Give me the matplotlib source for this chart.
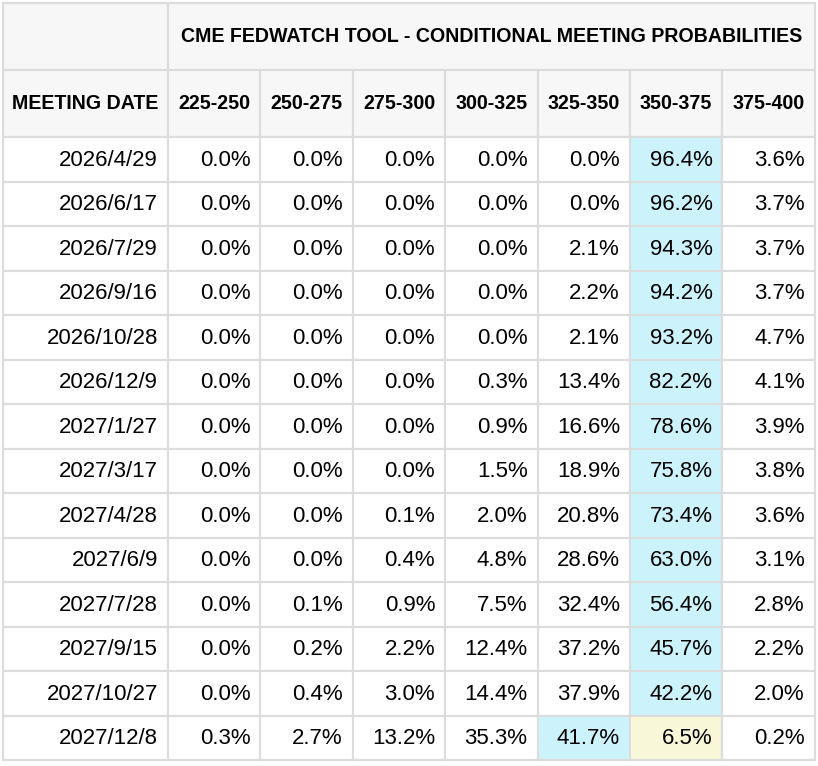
import matplotlib
matplotlib.use("Agg")
import matplotlib.pyplot as plt
from matplotlib.patches import Rectangle
import numpy as np

title = "CME FEDWATCH TOOL - CONDITIONAL MEETING PROBABILITIES"
first_header = "MEETING DATE"
ranges = ["225-250", "250-275", "275-300", "300-325", "325-350", "350-375", "375-400"]
current_range = "350-375"

dates = ["2026/4/29", "2026/6/17", "2026/7/29", "2026/9/16", "2026/10/28",
         "2026/12/9", "2027/1/27", "2027/3/17", "2027/4/28", "2027/6/9",
         "2027/7/28", "2027/9/15", "2027/10/27", "2027/12/8"]

p_225_250 = [0.0, 0.0, 0.0, 0.0, 0.0, 0.0, 0.0, 0.0, 0.0, 0.0, 0.0, 0.0, 0.0, 0.3]
p_250_275 = [0.0, 0.0, 0.0, 0.0, 0.0, 0.0, 0.0, 0.0, 0.0, 0.0, 0.1, 0.2, 0.4, 2.7]
p_275_300 = [0.0, 0.0, 0.0, 0.0, 0.0, 0.0, 0.0, 0.0, 0.1, 0.4, 0.9, 2.2, 3.0, 13.2]
p_300_325 = [0.0, 0.0, 0.0, 0.0, 0.0, 0.3, 0.9, 1.5, 2.0, 4.8, 7.5, 12.4, 14.4, 35.3]
p_325_350 = [0.0, 0.0, 2.1, 2.2, 2.1, 13.4, 16.6, 18.9, 20.8, 28.6, 32.4, 37.2, 37.9, 41.7]
p_350_375 = [96.4, 96.2, 94.3, 94.2, 93.2, 82.2, 78.6, 75.8, 73.4, 63.0, 56.4, 45.7, 42.2, 6.5]
p_375_400 = [3.6, 3.7, 3.7, 3.7, 4.7, 4.1, 3.9, 3.8, 3.6, 3.1, 2.8, 2.2, 2.0, 0.2]

probs = np.array([p_225_250, p_250_275, p_275_300, p_300_325,
                  p_325_350, p_350_375, p_375_400]).T

# layout in pixels
W, H = 818, 766
left, top = 3, 3
first_w = 165
col_w = 92.4
head_h = 67
row_h = 44.5
grid_col = "#dcdcdc"
head_bg = "#f7f7f7"
blue = "#ccf3fc"
yellow = "#f8f8d8"
pad = 10
head_fs = 14.1
data_fs = 16

plt.rcParams["font.family"] = ["Liberation Sans", "DejaVu Sans"]

fig = plt.figure(figsize=(W / 100, H / 100), dpi=100)
ax = fig.add_axes([0, 0, 1, 1])
ax.set_xlim(0, W)
ax.set_ylim(H, 0)
ax.axis("off")

n_cols = len(ranges)
n_rows = len(dates)
xs = [left, left + first_w] + [left + first_w + col_w * (i + 1) for i in range(n_cols)]
right = xs[-1]
data_top = top + 2 * head_h
bottom = data_top + row_h * n_rows


def cell(x0, y0, w, h, fc):
    ax.add_patch(Rectangle((x0, y0), w, h, facecolor=fc, edgecolor=grid_col,
                           linewidth=1.5, zorder=1))


# header rows
cell(left, top, first_w, head_h, head_bg)
cell(xs[1], top, right - xs[1], head_h, head_bg)
ax.text((xs[1] + right) / 2, top + head_h / 2, title, ha="center", va="center",
        fontsize=head_fs, fontweight="bold", zorder=3)
cell(left, top + head_h, first_w, head_h, head_bg)
ax.text(left + first_w / 2, top + 1.5 * head_h, first_header, ha="center",
        va="center", fontsize=head_fs, fontweight="bold", zorder=3)
for j, r in enumerate(ranges):
    cell(xs[j + 1], top + head_h, col_w, head_h, head_bg)
    ax.text(xs[j + 1] + col_w / 2, top + 1.5 * head_h, r, ha="center",
            va="center", fontsize=head_fs, fontweight="bold", zorder=3)

# data rows
cur = ranges.index(current_range)
for i, d in enumerate(dates):
    y0 = data_top + row_h * i
    cell(left, y0, first_w, row_h, "white")
    ax.text(xs[1] - pad, y0 + row_h / 2 + 1, d, ha="right", va="center",
            fontsize=data_fs, zorder=3)
    best = int(np.argmax(probs[i]))
    for j in range(n_cols):
        fc = "white"
        if j == best:
            fc = blue
        elif j == cur:
            fc = yellow
        cell(xs[j + 1], y0, col_w, row_h, fc)
        ax.text(xs[j + 2] - pad, y0 + row_h / 2 + 1, f"{probs[i, j]:.1f}%",
                ha="right", va="center", fontsize=data_fs, zorder=3)

# outer frame
ax.add_patch(Rectangle((left, top), right - left, bottom - top, fill=False,
                       edgecolor=grid_col, linewidth=1.5, zorder=4))

fig.savefig("out.png", dpi=100)
